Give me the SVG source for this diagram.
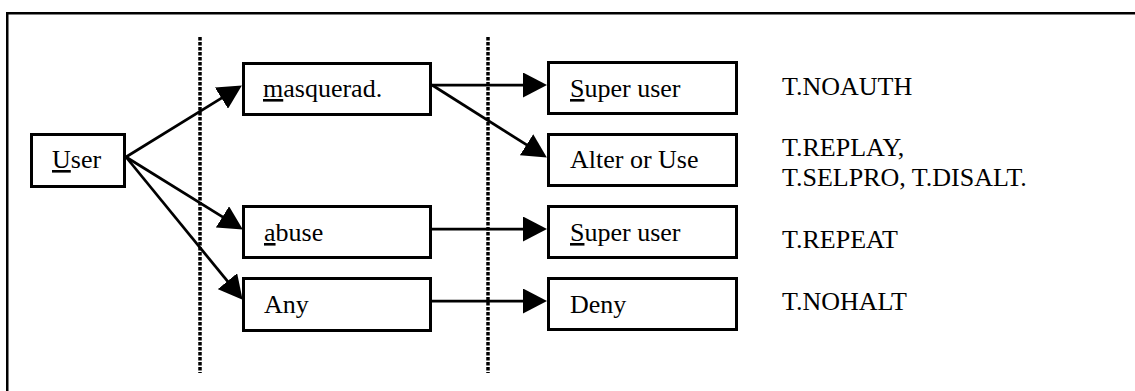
<svg xmlns="http://www.w3.org/2000/svg" width="1135" height="391" viewBox="0 0 1135 391">
  <style>
    .box { fill: #fff; stroke: #000; stroke-width: 3; }
    .u { text-decoration: underline; }
    .edge { stroke: #000; stroke-width: 2.75; fill: none; marker-end: url(#head); }
    .divider { stroke: #000; stroke-width: 3.5; stroke-dasharray: 3.4 1.6; }
    text { font-family: "Liberation Serif", serif; font-size: 26px; fill: #000; }
  </style>
  <defs>
    <marker id="head" markerUnits="userSpaceOnUse" markerWidth="24" markerHeight="25" refX="11" refY="12.5" orient="auto" viewBox="0 0 24 25">
      <path d="M0,0 L24,12.5 L0,25 z" fill="#000"/>
    </marker>
  </defs>

  <rect x="0" y="0" width="1135" height="391" fill="#fff"/>
  <!-- outer frame -->
  <rect x="7.25" y="13.25" width="1140" height="400" fill="none" stroke="#000" stroke-width="2.5"/>

  <!-- dotted separators -->
  <g id="dividers">
    <line class="divider" x1="200" y1="37" x2="200" y2="373"/>
    <line class="divider" x1="488" y1="37" x2="488" y2="373"/>
  </g>

  <g id="connectors">
    <line class="edge" x1="126" y1="157" x2="230.8" y2="92.3"/>
    <line class="edge" x1="126" y1="157" x2="231.8" y2="222.7"/>
    <line class="edge" x1="126" y1="157" x2="234.4" y2="289.7"/>
    <line class="edge" x1="432" y1="85" x2="534" y2="85"/>
    <line class="edge" x1="432" y1="85" x2="535.85" y2="150.6"/>
    <line class="edge" x1="432" y1="229" x2="534" y2="229"/>
    <line class="edge" x1="432" y1="301" x2="534" y2="301"/>
  </g>

  <g id="user">
    <rect class="box" x="31.5" y="134.5" width="93" height="52"/>
    <text x="52" y="168"><tspan class="u">U</tspan>ser</text>
  </g>
  <g id="masquerade">
    <rect class="box" x="243.5" y="63.5" width="187" height="51"/>
    <text x="263" y="97"><tspan class="u">m</tspan>asquerad.</text>
  </g>
  <g id="abuse">
    <rect class="box" x="243.5" y="206.5" width="187" height="51"/>
    <text x="264" y="241"><tspan class="u">a</tspan>buse</text>
  </g>
  <g id="any">
    <rect class="box" x="243.5" y="278.5" width="187" height="52"/>
    <text x="264" y="313">Any</text>
  </g>
  <g id="superuser1">
    <rect class="box" x="548.5" y="62.5" width="188" height="51"/>
    <text x="570" y="97"><tspan class="u">S</tspan>uper user</text>
  </g>
  <g id="alter">
    <rect class="box" x="548.5" y="134.5" width="188" height="51"/>
    <text x="570" y="168">Alter or Use</text>
  </g>
  <g id="superuser2">
    <rect class="box" x="548.5" y="206.5" width="188" height="51"/>
    <text x="570" y="241"><tspan class="u">S</tspan>uper user</text>
  </g>
  <g id="deny">
    <rect class="box" x="548.5" y="278.5" width="188" height="51"/>
    <text x="570" y="313">Deny</text>
  </g>

  <!-- threat labels -->
  <g id="threats">
    <text x="782" y="95">T.NOAUTH</text>
    <text x="782" y="156">T.REPLAY,</text>
    <text x="782" y="186">T.SELPRO, T.DISALT.</text>
    <text x="782" y="248">T.REPEAT</text>
    <text x="782" y="310">T.NOHALT</text>
  </g>
</svg>
